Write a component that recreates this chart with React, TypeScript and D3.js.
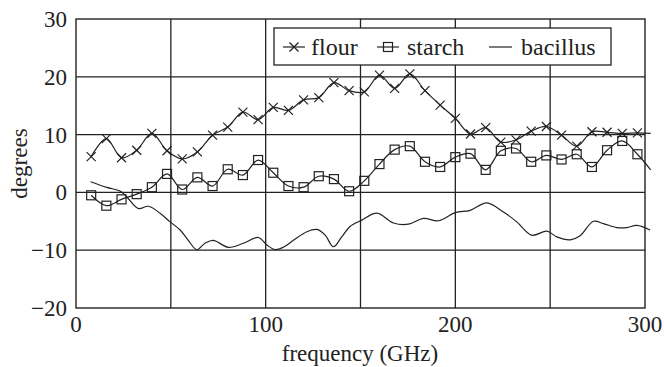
import React from "react";
import * as d3 from "d3";

const flourFreq = [8, 16, 24, 32, 40, 48, 56, 64, 72, 80, 88, 96, 104, 112, 120, 128, 136, 144, 152, 160, 168, 176, 184, 192, 200, 208, 216, 224, 232, 240, 248, 256, 264, 272, 280, 288, 296, 303];
const flourVal = [6.2, 9.3, 6.0, 7.3, 10.2, 7.2, 5.8, 7.0, 9.9, 11.3, 13.9, 12.6, 14.7, 14.2, 16.0, 16.4, 19.0, 17.6, 17.4, 20.3, 18.0, 20.5, 17.6, 15.1, 12.8, 10.1, 11.2, 8.7, 9.1, 10.6, 11.4, 9.9, 8.0, 10.5, 10.4, 10.2, 10.3, 10.2];

const starchFreq = flourFreq;
const starchVal = [-0.5, -2.3, -1.2, -0.3, 0.9, 3.2, 0.5, 2.6, 1.1, 4.0, 3.0, 5.6, 3.4, 1.1, 0.9, 2.8, 2.3, 0.2, 2.0, 4.9, 7.4, 8.0, 5.3, 4.4, 6.1, 6.7, 3.9, 7.2, 7.6, 5.3, 6.4, 5.7, 6.6, 4.4, 7.3, 8.9, 6.6, 3.9];

const bacFreq = [7.7, 16.2, 23.2, 26.7, 32.9, 38.1, 44.3, 49.6, 54.9, 59.2, 63.7, 68, 72.4, 80.3, 88.3, 96.2, 100.6, 105, 109.3, 114.6, 121.7, 127, 131.4, 135.7, 140.1, 144.5, 150.7, 158.6, 167.4, 175.3, 183.2, 191.1, 200, 207.8, 216.6, 225.4, 232.4, 240.3, 248.3, 253.5, 260.6, 265.8, 272.8, 278.1, 285.2, 290.4, 295.7, 302.7];
const bacVal = [1.85, 0.87, 0.23, -0.75, -2.8, -2.4, -3.6, -5.1, -6.5, -8.3, -9.9, -8.8, -8.3, -9.5, -8.8, -7.8, -9.1, -9.9, -9.5, -8.3, -6.8, -6.4, -7.4, -9.4, -7.7, -5.9, -4.8, -3.6, -5.3, -5.5, -4.5, -4.9, -3.5, -3.1, -1.8, -3.4, -5.1, -7.4, -6.7, -7.7, -8.2, -7.5, -5.0, -5.4, -6.1, -6.1, -5.7, -6.5];

const xTicks = [0, 100, 200, 300];
const xGrid = [50, 100, 150, 200, 250];
const yTicks = [30, 20, 10, 0, -10, -20];
const yGrid = [20, 10, 0, -10];

const markerMax = 300;

export default function App() {
  const W = 664, H = 367;
  const left = 76, right = 645, top = 19, bottom = 308;
  const x = d3.scaleLinear().domain([0, 300]).range([left, right]);
  const y = d3.scaleLinear().domain([-20, 30]).range([bottom, top]);
  const font = '"Liberation Serif", "DejaVu Serif", serif';
  const ink = "#222";
  const ts = { fontFamily: font } as React.CSSProperties;

  const line = d3
    .line<[number, number]>()
    .x((d) => x(d[0]))
    .y((d) => y(d[1]))
    .curve(d3.curveCatmullRom.alpha(0.5));

  const flour: [number, number][] = flourFreq.map((f, i) => [f, flourVal[i]]);
  const starch: [number, number][] = starchFreq.map((f, i) => [f, starchVal[i]]);
  const bac: [number, number][] = bacFreq.map((f, i) => [f, bacVal[i]]);

  const cross = (cx: number, cy: number, s: number, key: any) => (
    <g key={key} stroke={ink} strokeWidth={1.2}>
      <line x1={cx - s} y1={cy - s} x2={cx + s} y2={cy + s} />
      <line x1={cx - s} y1={cy + s} x2={cx + s} y2={cy - s} />
    </g>
  );
  const square = (cx: number, cy: number, s: number, key: any) => (
    <rect key={key} x={cx - s} y={cy - s} width={2 * s} height={2 * s} fill="none" stroke={ink} strokeWidth={1.2} />
  );

  return (
    <svg width={W} height={H} style={{ position: "absolute", left: 0, top: 0, background: "white" }}>
      <rect x={0} y={0} width={W} height={H} fill="white" />
      {xGrid.map((g) => (
        <line key={"xg" + g} x1={x(g)} x2={x(g)} y1={top} y2={bottom} stroke={ink} strokeWidth={1.3} />
      ))}
      {yGrid.map((g) => (
        <line key={"yg" + g} x1={left} x2={right} y1={y(g)} y2={y(g)} stroke={ink} strokeWidth={1.3} />
      ))}
      <rect x={left} y={top} width={right - left} height={bottom - top} fill="none" stroke={ink} strokeWidth={1.4} />

      <path d={line(bac) || ""} fill="none" stroke={ink} strokeWidth={1.2} />
      <path d={line(starch) || ""} fill="none" stroke={ink} strokeWidth={1.2} />
      <path d={line(flour) || ""} fill="none" stroke={ink} strokeWidth={1.2} />
      {starch.filter((d) => d[0] <= markerMax).map((d, i) => square(x(d[0]), y(d[1]), 4.5, "s" + i))}
      {flour.filter((d) => d[0] <= markerMax).map((d, i) => cross(x(d[0]), y(d[1]), 4.5, "f" + i))}

      <rect x={274} y={28} width={337} height={37} fill="white" stroke={ink} strokeWidth={1.3} />
      <line x1={283} x2={305} y1={47} y2={47} stroke={ink} strokeWidth={1.2} />
      {cross(294, 47, 4.5, "lf")}
      <text x={311} y={55} fontSize={24} fill={ink} style={ts}>flour</text>
      <line x1={377} x2={399} y1={47} y2={47} stroke={ink} strokeWidth={1.2} />
      {square(388, 47, 4.5, "ls")}
      <text x={407} y={55} fontSize={24} fill={ink} style={ts}>starch</text>
      <line x1={489} x2={512} y1={47} y2={47} stroke={ink} strokeWidth={1.2} />
      <text x={521} y={55} fontSize={24} fill={ink} style={ts}>bacillus</text>

      {yTicks.map((t) => (
        <text key={"yt" + t} x={67} y={y(t) + 8} textAnchor="end" fontSize={23} fill={ink} style={ts}>
          {t < 0 ? "\u2212" + Math.abs(t) : String(t)}
        </text>
      ))}
      {xTicks.map((t) => (
        <text key={"xt" + t} x={x(t)} y={332} textAnchor="middle" fontSize={23} fill={ink} style={ts}>
          {t}
        </text>
      ))}
      <text x={360} y={361} textAnchor="middle" fontSize={23} fill={ink} style={ts}>frequency (GHz)</text>
      <text transform={`translate(27,${(top + bottom) / 2}) rotate(-90)`} textAnchor="middle" fontSize={23} fill={ink} style={ts}>degrees</text>
    </svg>
  );
}
